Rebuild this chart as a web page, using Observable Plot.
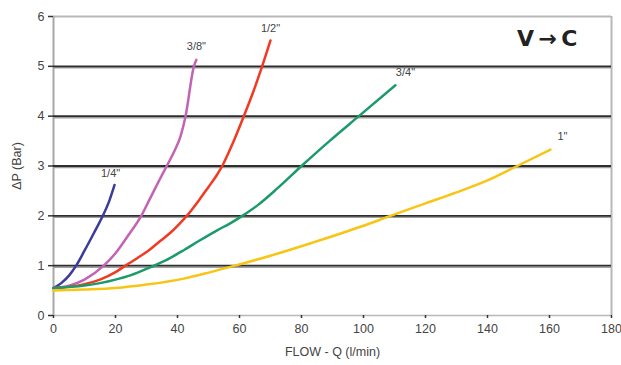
<!DOCTYPE html>
<html>
<head>
<meta charset="utf-8">
<script src="https://cdn.jsdelivr.net/npm/d3@7"></script>
<script src="https://cdn.jsdelivr.net/npm/@observablehq/plot@0.6"></script>
<style>
  html, body { margin: 0; padding: 0; background: #fff; }
  #chart { width: 621px; height: 365px; }
</style>
</head>
<body>
<div id="chart"></div>
<script>
// Series: flow Q (l/min) and pressure drop ΔP (bar)
const flowQuarter = [0, 2.5, 5, 7.3, 10, 13, 15.9, 18, 19.7];
const dpQuarter   = [0.55, 0.65, 0.8, 1.0, 1.3, 1.65, 2.0, 2.3, 2.62];

const flowThreeEighth = [0, 5, 10, 16.2, 20, 23.8, 28.3, 31, 34, 36.7, 39, 41, 42.6, 45.3, 46.1];
const dpThreeEighth   = [0.55, 0.6, 0.72, 1.0, 1.25, 1.58, 2.0, 2.33, 2.7, 3.02, 3.3, 3.6, 4.0, 5.0, 5.13];

const flowHalf = [0, 10, 15, 20, 23.2, 27, 31, 34.5, 37.7, 40, 43, 47, 50, 52.5, 54.6, 56.5, 58, 61.4, 64.5, 67.3, 70];
const dpHalf   = [0.55, 0.63, 0.72, 0.87, 1.0, 1.15, 1.32, 1.5, 1.66, 1.8, 2.0, 2.32, 2.58, 2.8, 3.02, 3.27, 3.48, 4.0, 4.5, 5.0, 5.52];

const flowThreeQuarter = [0, 10, 15, 20, 25, 31.3, 36, 42, 47, 52.8, 57, 60.9, 66, 72.2, 80, 89, 98.5, 110.3];
const dpThreeQuarter   = [0.55, 0.6, 0.65, 0.72, 0.81, 0.97, 1.1, 1.31, 1.5, 1.71, 1.85, 2.0, 2.22, 2.55, 3.0, 3.5, 4.0, 4.62];

const flowOne = [0, 10, 20, 30, 42, 50, 58.5, 70, 83, 100, 108.7, 120, 130, 140, 149.6, 160.3];
const dpOne   = [0.5, 0.52, 0.55, 0.62, 0.74, 0.86, 1.0, 1.2, 1.45, 1.8, 2.0, 2.25, 2.47, 2.71, 3.0, 3.33];

const seriesNames  = ['1/4"', '3/8"', '1/2"', '3/4"', '1"'];
const seriesColors = ["#3b3b9c", "#c263b6", "#f23a22", "#1b9a6a", "#f7c514"];
const flows = [flowQuarter, flowThreeEighth, flowHalf, flowThreeQuarter, flowOne];
const dps   = [dpQuarter, dpThreeEighth, dpHalf, dpThreeQuarter, dpOne];

const xTicks = [0, 20, 40, 60, 80, 100, 120, 140, 160, 180];
const yTicks = [0, 1, 2, 3, 4, 5, 6];
const gridValues = [1, 2, 3, 4, 5];
const titleText = "V\u2009\u2192\u2009C";
const xLabel = "FLOW - Q (l/min)";
const yLabel = "\u0394P (Bar)";

const rows = [];
seriesNames.forEach((name, i) => {
  flows[i].forEach((q, j) => rows.push({series: name, q, dp: dps[i][j]}));
});
const ends = seriesNames.map((name, i) => ({
  series: name, q: flows[i][flows[i].length - 1], dp: dps[i][dps[i].length - 1]
}));
const labelOffsets = [[-4, -11], [0, -13], [0, -12], [10, -13], [12, -13]];

const font = "'Liberation Sans', Arial, sans-serif";

const chart = Plot.plot({
  width: 621,
  height: 365,
  marginLeft: 53,
  marginRight: 10,
  marginTop: 16,
  marginBottom: 50,
  style: {fontFamily: font, fontSize: "12px", color: "#333", background: "#fff"},
  x: {domain: [0, 180], ticks: xTicks, label: xLabel, labelAnchor: "center", labelArrow: "none", labelOffset: 40},
  y: {domain: [0, 6], ticks: yTicks, label: yLabel, labelAnchor: "center", labelArrow: "none", labelOffset: 41},
  color: {domain: seriesNames, range: seriesColors},
  marks: [
    // frame
    Plot.ruleY([6], {stroke: "#b8b8b8", strokeWidth: 2}),
    Plot.ruleX([180], {stroke: "#b8b8b8", strokeWidth: 2}),
    Plot.ruleX([0], {stroke: "#a8a8a8", strokeWidth: 2}),
    Plot.ruleY([0], {stroke: "#b8b8b8", strokeWidth: 1.5}),
    // gridlines with shadow
    Plot.ruleY(gridValues, {stroke: "#a0a0a0", strokeWidth: 1.5, dy: 1.5}),
    Plot.ruleY(gridValues, {stroke: "#2e2e2e", strokeWidth: 1.8}),
    Plot.axisX({ticks: xTicks, tickFormat: "d", tickSize: 3, tickPadding: 6, fontSize: 12.5, fill: "#444", stroke: "#333", strokeWidth: 1.5, label: xLabel, labelAnchor: "center", labelArrow: "none", labelOffset: 40}),
    Plot.axisY({ticks: yTicks, tickFormat: "d", tickSize: 5, tickPadding: 4, fontSize: 12.5, fill: "#444", stroke: "#333", strokeWidth: 1.5, label: yLabel, labelAnchor: "center", labelArrow: "none", labelOffset: 41}),
    Plot.line(rows, {x: "q", y: "dp", z: "series", stroke: "series", strokeWidth: 2.5, curve: "monotone-x"}),
    ...ends.map((e, i) => Plot.text([e], {
      x: "q", y: "dp", text: "series", dx: labelOffsets[i][0], dy: labelOffsets[i][1],
      fontSize: 11, fill: "#444"
    })),
    Plot.text([titleText], {
      frameAnchor: "top-right", dx: -34, dy: 14, lineAnchor: "top",
      fontSize: 22, fontWeight: "bold", fill: "#222", fontFamily: "'DejaVu Sans', sans-serif"
    })
  ]
});
document.getElementById("chart").appendChild(chart);
</script>
</body>
</html>
